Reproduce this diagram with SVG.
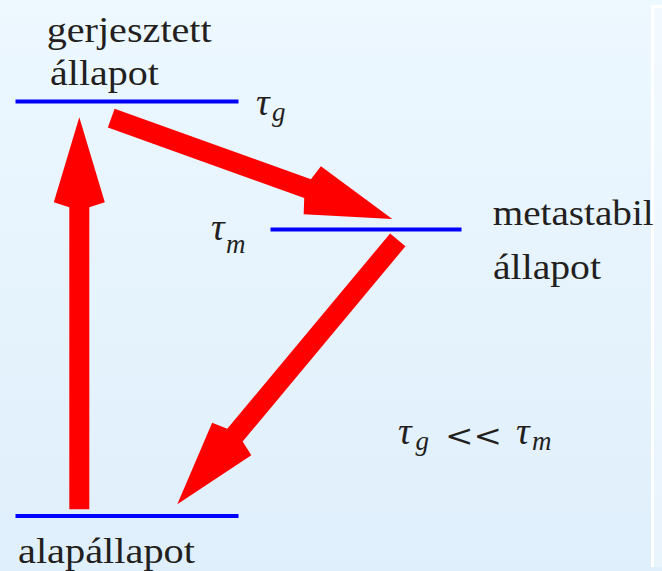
<svg xmlns="http://www.w3.org/2000/svg" width="662" height="571" viewBox="0 0 662 571">
  <defs>
    <linearGradient id="bg" x1="0" y1="0" x2="0" y2="1">
      <stop offset="0" stop-color="#EDF8FF"/>
      <stop offset="1" stop-color="#DFEFFB"/>
    </linearGradient>
    <path id="shape" d="M0,0 L-85,-25.5 L-90,-10 L-100,-10 L-100,10 L-90,10 L-85,25.5 Z"/>
  </defs>
  <rect x="0" y="0" width="662" height="571" fill="url(#bg)"/>
  <rect x="654" y="7" width="8" height="560" fill="#FFFFFF" opacity="0.3"/>
  <path d="M662,6.5 H652.5 V567" stroke="#FFFFFF" stroke-width="3" fill="none"/>

  <g id="excited">
    <line stroke="#0000FF" stroke-width="4" x1="15.5" y1="101.5" x2="238.5" y2="101.5"/>
    <text font-family="Liberation Serif" font-size="36" fill="#231F20" x="46.7" y="42" textLength="165" lengthAdjust="spacingAndGlyphs">gerjesztett</text>
    <text font-family="Liberation Serif" font-size="36" fill="#231F20" x="50" y="85" textLength="109" lengthAdjust="spacingAndGlyphs">állapot</text>
    <text font-family="Liberation Serif" font-size="38" font-style="italic" fill="#231F20" x="256" y="115">τ</text>
    <text font-family="Liberation Serif" font-size="27" font-style="italic" fill="#231F20" x="272" y="121">g</text>
  </g>

  <g id="metastable">
    <line stroke="#0000FF" stroke-width="4" x1="270.5" y1="229.5" x2="461.5" y2="229.5"/>
    <text font-family="Liberation Serif" font-size="36" fill="#231F20" x="492.7" y="225" textLength="161" lengthAdjust="spacingAndGlyphs">metastabil</text>
    <text font-family="Liberation Serif" font-size="36" fill="#231F20" x="493" y="279" textLength="108" lengthAdjust="spacingAndGlyphs">állapot</text>
    <text font-family="Liberation Serif" font-size="38" font-style="italic" fill="#231F20" x="211" y="240">τ</text>
    <text font-family="Liberation Serif" font-size="27" font-style="italic" fill="#231F20" x="226" y="253">m</text>
  </g>

  <g id="ground">
    <line stroke="#0000FF" stroke-width="4" x1="15.5" y1="516" x2="238.5" y2="516"/>
    <text font-family="Liberation Serif" font-size="36" fill="#231F20" x="18" y="563" textLength="177" lengthAdjust="spacingAndGlyphs">alapállapot</text>
  </g>

  <g id="relation">
    <text font-family="Liberation Serif" font-size="38" font-style="italic" fill="#231F20" x="398" y="444">τ</text>
    <text font-family="Liberation Serif" font-size="27" font-style="italic" fill="#231F20" x="415.5" y="450">g</text>
    <text font-family="DejaVu Serif" font-size="30" fill="#231F20" x="445" y="446" textLength="57" lengthAdjust="spacingAndGlyphs">&lt;&lt;</text>
    <text font-family="Liberation Serif" font-size="38" font-style="italic" fill="#231F20" x="516" y="444">τ</text>
    <text font-family="Liberation Serif" font-size="27" font-style="italic" fill="#231F20" x="532" y="450">m</text>
  </g>

  <g id="connectors" fill="#FF0000">
    <path d="M0,0 L-85,-25.5 L-90,-10 L-392,-10 L-392,10 L-90,10 L-85,25.5 Z" transform="translate(79.3,117.3) rotate(-90)"/>
    <path d="M0,0 L-85,-25.5 L-90,-10 L-298.6,-10 L-298.6,10 L-90,10 L-85,25.5 Z" transform="translate(392.3,219) rotate(19.73)"/>
    <path d="M0,0 L-85,-25.5 L-90,-10 L-344.3,-10 L-344.3,10 L-90,10 L-85,25.5 Z" transform="translate(177.3,504.3) rotate(129.82)"/>
  </g>
</svg>
